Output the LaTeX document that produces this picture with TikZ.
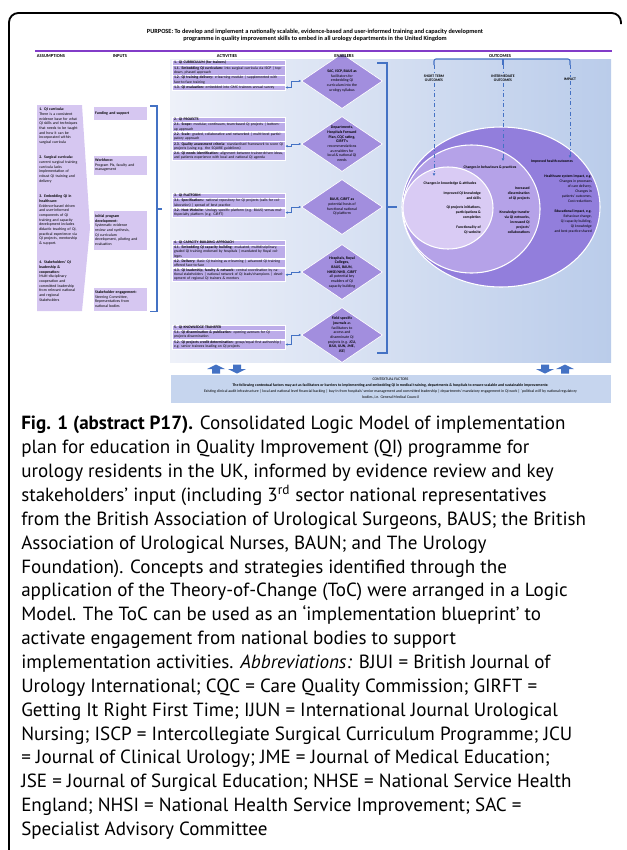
\documentclass[tikz,border=0pt]{standalone}
\usepackage{fontspec}
\setmainfont{Carlito}
\newfontfamily\carlito{Carlito}
\newfontfamily\capfont{PT Sans}
\usetikzlibrary{arrows.meta, positioning, shapes.geometric, calc}

\definecolor{lavender}{RGB}{214,199,241}
\definecolor{actpurple}{RGB}{188,172,233}
\definecolor{diapurple}{RGB}{162,142,222}
\definecolor{linkblue}{RGB}{68,114,196}
\definecolor{ctxblue}{RGB}{198,213,238}
\definecolor{bgleft}{RGB}{238,241,249}
\definecolor{bgright}{RGB}{186,204,234}
\definecolor{ellout}{RGB}{146,126,220}
\definecolor{ellmid}{RGB}{181,162,232}
\definecolor{ellin}{RGB}{217,203,244}
\definecolor{rulepurple}{RGB}{130,60,200}

\newcommand{\actfont}{\carlito\fontsize{2.8}{3.15}\selectfont}
\newcommand{\smfont}{\carlito\fontsize{2.9}{3.5}\selectfont}
\newcommand{\outfont}{\carlito\fontsize{2.8}{3.7}\selectfont}

\tikzset{
    header/.style={font=\carlito\fontsize{3.4}{4}\selectfont\bfseries},
    asmtext/.style={anchor=north west, inner sep=0pt, text width=34pt, align=left, font=\smfont},
    inbox/.style={draw=white, line width=0.3pt, fill=lavender, anchor=north west, text width=37.5pt, inner sep=1.5pt, align=left, font=\smfont},
    actrow/.style={draw=white, line width=0.4pt, fill=actpurple, text width=82pt, inner xsep=1.3pt, inner ysep=0.6pt, align=left, font=\actfont},
    enabler/.style={diamond, draw=white, line width=0.5pt, fill=diapurple, minimum width=60.75pt, minimum height=41.25pt, inner sep=0pt},
    enabtext/.style={align=center, inner sep=0pt, font=\smfont},
    link/.style={linkblue, line width=0.6pt, {Latex[length=1.8pt,width=2pt]}-{Latex[length=1.8pt,width=2pt]}},
    bline/.style={linkblue, line width=0.8pt},
    dashline/.style={linkblue, line width=0.6pt, dash dot},
    outlab/.style={align=center, inner sep=0.5pt, font=\carlito\fontsize{2.8}{3.4}\selectfont\bfseries},
    outtext/.style={align=right, anchor=north east, inner sep=0pt, font=\outfont},
    outhead/.style={inner sep=0pt, font=\outfont\bfseries},
    pics/blockup/.style={code={\fill[linkblue] (-4,4.5) -- (-4,0) -- (-9,0) -- (0,-4.5) -- (9,0) -- (4,0) -- (4,4.5) -- cycle;}},
    pics/blockdown/.style={code={\fill[linkblue] (-4,-4.5) -- (-4,0) -- (-9,0) -- (0,4.5) -- (9,0) -- (4,0) -- (4,-4.5) -- cycle;}}
}

\begin{document}
\begin{tikzpicture}[x=0.75pt, y=-0.75pt]
    \useasboundingbox (0,0) rectangle (627,850);

    % Frame
    \draw[line width=1.4pt, rounded corners=7pt] (9,852) -- (9,13) -- (621,13) -- (621,24);

    % Purpose
    \node[font=\carlito\fontsize{4.7}{5.3}\selectfont\bfseries, align=center] (purpose) at (315,35.5) {PURPOSE: To develop and implement a nationally scalable, evidence-based and user-informed training and capacity development\\programme in quality improvement skills to embed in all urology departments in the United Kingdom};
    \draw[rulepurple, line width=0.8pt] (35,51) -- (612,51);

    % Background of activities, enablers and outcomes
    \shade[left color=bgleft, right color=bgright] (170,59) rectangle (611,362);

    % Assumptions
    \fill[lavender] (37,105) -- (82,105) -- (90,228) -- (82,311) -- (37,311) -- cycle;
    \node[asmtext] (asm1) at (39,108) {\textbf{1. QI curricula:}\\There is a consistent\\evidence base for what\\QI skills and techniques\\that needs to be taught\\and how it can be\\incorporated within\\surgical curricula};
    \node[asmtext] (asm2) at (39,156) {\textbf{2. Surgical curricula:}\\current surgical training\\curricula lacks\\implementation of\\robust QI training and\\delivery};
    \node[asmtext] (asm3) at (39,195) {\textbf{3. Embedding QI in}\\\textbf{healthcare:}\\Evidence-based driven\\and user-informed\\components of QI\\training and capacity\\development includes\\didactic teaching of QI,\\practical experience via\\QI projects, mentorship\\\& support.};
    \node[asmtext] (asm4) at (39,261) {\textbf{4. Stakeholders' QI}\\\textbf{leadership \&}\\\textbf{cooperation:}\\Multi-disciplinary\\cooperation and\\committed leadership\\from relevant national\\and regional\\Stakeholders};

    % Inputs
    \node[inbox, minimum height=10.5pt] (inp1) at (93,106) {\textbf{Funding and support}};
    \node[inbox, minimum height=15pt] (inp2) at (93,155) {\textbf{Workforce:}\\Program PIs, faculty and\\management};
    \node[inbox, minimum height=30pt] (inp3) at (93,210) {\textbf{Initial program}\\\textbf{development:}\\Systematic evidence\\review and synthesis,\\QI curriculum\\development, piloting and\\evaluation};
    \node[inbox, minimum height=18pt] (inp4) at (93,287) {\textbf{Stakeholder engagement:}\\Steering Committee,\\Representatives from\\national bodies};

    % Inputs bracket
    \coordinate (inmid) at (162,209);
    \draw[bline] ([xshift=2pt]inp1.north east) -| (157,209) |- ([xshift=2pt]inp4.south east);
    \draw[bline] (157,209) -- (inmid);

    % Activity 1
    \node[actrow, anchor=north west] (act1) at (172,60) {\textbf{1. QI CURRICULUM (for trainers)}};
    \node[actrow, below=0pt of act1] (act1a) {\textbf{1.1. Embedding QI curriculum:} into surgical curricula via ISCP | top-down, phased approach};
    \node[actrow, below=0pt of act1a] (act1b) {\textbf{1.2. QI training delivery:} e-learning module | supplemented with face-to-face training};
    \node[actrow, below=0pt of act1b] (act1c) {\textbf{1.3. QI evaluation:} embedded into GMC trainees annual survey};

    % Activity 2
    \node[actrow, anchor=north west] (act2) at (172,117) {\textbf{2. QI PROJECTS}};
    \node[actrow, below=0pt of act2] (act2a) {\textbf{2.1. Scope:} modular, continuum, team-based QI projects | bottom-up approach};
    \node[actrow, below=0pt of act2a] (act2b) {\textbf{2.2. Scale:} graded, collaborative and networked | multi-level participatory approach};
    \node[actrow, below=0pt of act2b] (act2c) {\textbf{2.3. Quality assessment criteria:} standardised framework to score QI projects (using e.g. the SQUIRE guidelines)};
    \node[actrow, below=0pt of act2c] (act2d) {\textbf{2.4. QI needs identification:} alignment between trainee-driven ideas, and patients experience with local and national QI agenda};

    % Activity 3
    \node[actrow, anchor=north west] (act3) at (172,193) {\textbf{3. QI PLATFORM}};
    \node[actrow, below=0pt of act3] (act3a) {\textbf{3.1. Specifications:} national repository for QI projects (calls for collaboration) | spread of best practice};
    \node[actrow, below=0pt of act3a] (act3b) {\textbf{3.2. Host Website:} Urology specific platform (e.g. BAUS) versus multispecialty platform (e.g. GIRFT)};

    % Activity 4
    \node[actrow, anchor=north west] (act4) at (172,240) {\textbf{4. QI CAPACITY BUILDING APPROACH}};
    \node[actrow, below=0pt of act4] (act4a) {\textbf{4.1. Embedding QI capacity building:} evaluated, multidisciplinary, graded QI training endorsed by hospitals | mandated by Royal colleges};
    \node[actrow, below=0pt of act4a] (act4b) {\textbf{4.2. Delivery:} Basic QI training as e-learning | advanced QI training offered face-to-face};
    \node[actrow, below=0pt of act4b] (act4c) {\textbf{4.3. QI leadership, faculty \& network:} central coordination by national stakeholders | national network of QI leads/champions | development of regional QI trainers \& mentors};

    % Activity 5
    \node[actrow, anchor=north west] (act5) at (172,325) {\textbf{5. QI KNOWLEDGE TRANSFER}};
    \node[actrow, below=0pt of act5] (act5a) {\textbf{5.1. QI dissemination \& publication:} opening avenues for QI projects dissemination};
    \node[actrow, below=0pt of act5a] (act5b) {\textbf{5.2. QI projects credit determination:} group/equal first authorship | e.g. senior trainees leading on QI projects};

    % Enablers
    \node[enabler] (dia1) at (342,81) {};
    \node[enabler] (dia2) at (342,144) {};
    \node[enabler] (dia3) at (342,207) {};
    \node[enabler] (dia4) at (342,272) {};
    \node[enabler] (dia5) at (342,335) {};
    \node[enabtext] (dia1t) at (dia1) {\textbf{SAC, ISCP, BAUS as}\\facilitators for\\embedding QI\\curriculum into the\\urology syllabus};
    \node[enabtext] (dia2t) at (dia2) {\textbf{Departments,}\\\textbf{Hospitals Forward}\\\textbf{Plan, CQC rating,}\\\textbf{GIRFT's}\\recommendations\\as enablers for\\local \& national QI\\needs};
    \node[enabtext] (dia3t) at (dia3) {\textbf{BAUS, GIRFT as}\\potential hosts of\\functional national\\QI platform};
    \node[enabtext] (dia4t) at (dia4) {\textbf{Hospitals, Royal}\\\textbf{Colleges,}\\\textbf{BAUS, BAUN,}\\\textbf{NHSE/NHSI, GIRFT}\\all potential key\\enablers of QI\\capacity building};
    \node[enabtext] (dia5t) at (dia5) {\textbf{Field specific}\\\textbf{journals} as\\facilitators to\\access and\\disseminate QI\\projects (e.g. \textbf{JCU,}\\\textbf{BJUI, IJUN, JME,}\\\textbf{JSE})};

    % Column headers (on top of the shapes)
    \node[header] (hassum) at (51,56) {ASSUMPTIONS};
    \node[header] (hinput) at (120,56) {INPUTS};
    \node[header] (hactiv) at (227,56) {ACTIVITIES};
    \node[header] (henab) at (344,56) {ENABLERS};
    \node[header] (hout) at (500,56) {OUTCOMES};

    % Links from activities to enablers
    \draw[link] (act1c.east) -- ++(6,0) |- (dia1.west);
    \draw[link] (act2c.east) -- ++(6,0) |- (dia2.west);
    \draw[link] (act3b.east) -- ++(6,0) |- (dia3.west);
    \draw[link] (act4c.east) -- ++(6,0) |- (dia4.west);
    \draw[link] (act5b.east) -- ++(6,0) |- (dia5.west);

    % Enablers bracket
    \coordinate (enmid) at (397,207);
    \draw[bline] (377,63) -- (387,63) -- (387,353) -- (377,353);
    \draw[bline] (387,207) -- (enmid);

    % Outcomes
    \filldraw[fill=ellout, draw=white, line width=0.8pt] (501,207) ellipse [x radius=99, y radius=80];
    \filldraw[fill=ellmid, draw=white, line width=0.8pt] (471.5,209) ellipse [x radius=68.5, y radius=64];
    \filldraw[fill=ellin, draw=white, line width=0.8pt] (448,208) ellipse [x radius=45, y radius=41];

    \node[outlab] (stlab) at (434,78.5) {SHORT TERM\\OUTCOMES};
    \node[outlab] (imlab) at (503,78.5) {INTERMEDIATE\\OUTCOMES};
    \node[outlab] (iplab) at (570,79) {IMPACT};
    \coordinate (stend) at (434,176);
    \coordinate (imend) at (503,161);
    \coordinate (ipend) at (570,158);
    \draw[bline, rounded corners=1.5pt] (434,65) |- (503,59) -| (570,65);
    \draw[bline] (503,59) -- (503,65);
    \draw[dashline] (434,65) -- (stlab.north);
    \draw[dashline] (503,65) -- (imlab.north);
    \draw[dashline] (570,65) -- (iplab.north);
    \draw[dashline, -{Latex[length=2pt,width=2.2pt]}] (stlab.south) -- (stend);
    \draw[dashline, -{Latex[length=2pt,width=2.2pt]}] (imlab.south) -- (imend);
    \draw[dashline, -{Latex[length=2pt,width=2.2pt]}] (iplab.south) -- (ipend);

    \node[outhead] (health) at (552,161) {Improved health outcomes};
    \node[outhead] (behav) at (490,167.5) {Changes in behaviours \& practices};
    \node[outhead] (know) at (450,183) {Changes in knowledge \& attitudes};
    \node[outtext] (hsys) at (592,175) {\textbf{Healthcare system impact, e.g.}\\Changes in processes\\of care delivery,\\Changes in\\patients' outcomes,\\Cost reductions};
    \node[outtext] (edu) at (592,210) {\textbf{Educational impact, e.g.}\\Behaviour change,\\QI capacity building,\\QI knowledge\\and best practice shared};
    \node[outtext] (qik) at (481,192) {\textbf{Improved QI knowledge}\\\textbf{and skills}};
    \node[outtext] (qip) at (481,206) {\textbf{QI projects initiations,}\\\textbf{participations \&}\\\textbf{completion}};
    \node[outtext] (qiw) at (481,226) {\textbf{Functionality of}\\\textbf{QI website}};
    \node[outtext] (diss) at (530,187) {\textbf{Increased}\\\textbf{dissemination}\\\textbf{of QI projects}};
    \node[outtext] (ktr) at (530,211) {\textbf{Knowledge transfer}\\\textbf{via QI networks,}\\\textbf{increased QI}\\\textbf{projects'}\\\textbf{collaborations}};

    % Two-way block arrows
    \pic at (216,369) {blockup};
    \pic at (237,369) {blockdown};
    \pic at (545,369) {blockdown};
    \pic at (565,369) {blockup};

    % Contextual factors
    \node[draw=white, fill=ctxblue, minimum width=330.75pt, minimum height=21.75pt, inner sep=0pt] (ctx) at (390.5,388.5) {};
    \node[align=center, inner sep=0pt, font=\carlito\fontsize{2.9}{4.6}\selectfont] (ctxt) at (ctx) {CONTEXTUAL FACTORS\\\textbf{The following contextual factors may act as facilitators or barriers to implementing and embedding QI in medical training, departments \& hospitals to ensure scalable and sustainable improvements:}\\Existing clinical audit infrastructure | local and national level financial backing | buy-in from hospitals' senior management and committed leadership | departments' mandatory engagement in QI work | `political will' by national regulatory\\bodies, i.e. General Medical Council};

    % Caption
    \node[anchor=north west, inner sep=0pt, align=left, font=\capfont\fontsize{14.3}{17.9}\selectfont] (caption) at (21,416) {\textbf{Fig. 1 (abstract P17).} Consolidated Logic Model of implementation\\
plan for education in Quality Improvement (QI) programme for\\
urology residents in the UK, informed by evidence review and key\\
stakeholders’ input (including 3\textsuperscript{rd} sector national representatives\\
from the British Association of Urological Surgeons, BAUS; the British\\
Association of Urological Nurses, BAUN; and The Urology\\
Foundation). Concepts and strategies identified through the\\
application of the Theory-of-Change (ToC) were arranged in a Logic\\
Model. The ToC can be used as an ‘implementation blueprint’ to\\
activate engagement from national bodies to support\\
implementation activities. \textit{Abbreviations:} BJUI = British Journal of\\
Urology International; CQC = Care Quality Commission; GIRFT =\\
Getting It Right First Time; IJUN = International Journal Urological\\
Nursing; ISCP = Intercollegiate Surgical Curriculum Programme; JCU\\
= Journal of Clinical Urology; JME = Journal of Medical Education;\\
JSE = Journal of Surgical Education; NHSE = National Service Health\\
England; NHSI = National Health Service Improvement; SAC =\\
Specialist Advisory Committee};
\end{tikzpicture}
\end{document}
